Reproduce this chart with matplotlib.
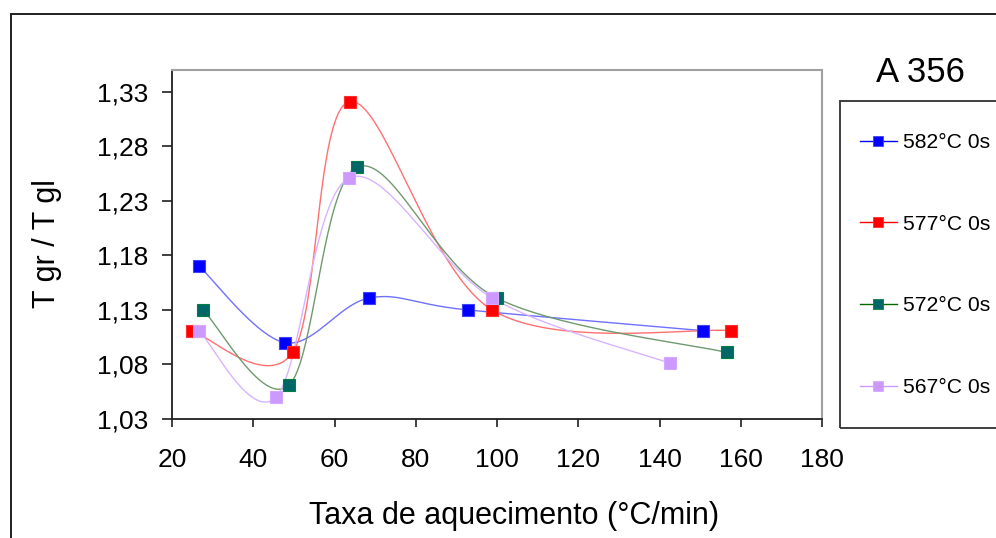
import numpy as np
import matplotlib
matplotlib.use("Agg")
import matplotlib.pyplot as plt
from matplotlib.lines import Line2D
from matplotlib.patches import Rectangle

plt.rcParams['font.family'] = ['Liberation Sans', 'DejaVu Sans']

# ---- data ----
series_labels = ["582°C 0s", "577°C 0s", "572°C 0s", "567°C 0s"]
x_582 = [26.7, 47.8, 68.6, 92.8, 150.7]
y_582 = [1.170, 1.100, 1.141, 1.130, 1.111]
x_577 = [24.8, 49.7, 63.7, 98.8, 157.6]
y_577 = [1.111, 1.091, 1.321, 1.130, 1.111]
x_572 = [27.6, 48.8, 65.6, 99.9, 156.6]
y_572 = [1.130, 1.061, 1.261, 1.141, 1.091]
x_567 = [26.6, 45.6, 63.6, 98.8, 142.7]
y_567 = [1.111, 1.050, 1.251, 1.141, 1.081]

x_ticks = [20, 40, 60, 80, 100, 120, 140, 160, 180]
y_ticks = [1.03, 1.08, 1.13, 1.18, 1.23, 1.28, 1.33]
y_tick_labels = ["1,03", "1,08", "1,13", "1,18", "1,23", "1,28", "1,33"]

xlabel = "Taxa de aquecimento (°C/min)"
ylabel = "T gr / T gl"
series_title = "A 356"


def smooth(xs, ys, n=40):
    P = np.column_stack([xs, ys]).astype(float)
    out = []
    for i in range(len(P) - 1):
        p0 = P[i - 1] if i > 0 else P[i]
        p1 = P[i]
        p2 = P[i + 1]
        p3 = P[i + 2] if i + 2 < len(P) else P[i + 1]
        c1 = p1 + (p2 - p0) / 6.0
        c2 = p2 - (p3 - p1) / 6.0
        t = np.linspace(0, 1, n)[:, None]
        seg = ((1 - t) ** 3) * p1 + 3 * ((1 - t) ** 2) * t * c1 + 3 * (1 - t) * t ** 2 * c2 + t ** 3 * p2
        out.append(seg if i == 0 else seg[1:])
    S = np.vstack(out)
    return S[:, 0], S[:, 1]


W, H = 996, 538
fig = plt.figure(figsize=(W / 100, H / 100), dpi=100)
fig.patch.set_facecolor("white")

ax_l, ax_r, ax_t, ax_b = 172, 822, 70, 419
ax = fig.add_axes([ax_l / W, 1 - ax_b / H, (ax_r - ax_l) / W, (ax_b - ax_t) / H])

styles = [
    dict(line="#7070ff", mfc="#0000ff", mec="#4040ff", leg_line="#0000ff"),
    dict(line="#ff7070", mfc="#ff0000", mec="#ff3030", leg_line="#ff0000"),
    dict(line="#6f9a6f", mfc="#006666", mec="#008040", leg_line="#006600"),
    dict(line="#d8b4ff", mfc="#cc99ff", mec="#d4a8ff", leg_line="#cc99ff"),
]
data = [(x_582, y_582), (x_577, y_577), (x_572, y_572), (x_567, y_567)]

for (xs, ys), st in zip(data, styles):
    sx, sy = smooth(xs, ys)
    ax.plot(sx, sy, color=st["line"], lw=1.0, zorder=2)
for (xs, ys), st in zip(data, styles):
    ax.plot(xs, ys, ls="none", marker="s", ms=8, mfc=st["mfc"], mec=st["mec"], mew=0.8, zorder=3)

ax.set_xlim(20, 180)
ax.set_ylim(1.03, 1.35)
ax.set_xticks(x_ticks)
ax.set_xticklabels([str(v) for v in x_ticks])
ax.set_yticks(y_ticks)
ax.set_yticklabels(y_tick_labels)

for s in ["top", "right"]:
    ax.spines[s].set_color("#a0a0a0")
    ax.spines[s].set_linewidth(1.5)
for s in ["left", "bottom"]:
    ax.spines[s].set_color("#202020")
    ax.spines[s].set_linewidth(1.3)

ax.tick_params(axis="y", direction="out", length=7, width=1.2, pad=10, labelsize=19, colors="#202020")
ax.tick_params(axis="x", direction="out", length=6, width=1.2, pad=15, labelsize=19, colors="#202020")
for lab in ax.get_xticklabels() + ax.get_yticklabels():
    lab.set_color("black")

ax.set_xlabel(xlabel, fontsize=22)
ax.xaxis.set_label_coords((514 - ax_l) / (ax_r - ax_l), (ax_b - 516) / (ax_b - ax_t))
ax.xaxis.label.set_va("center")
ax.set_ylabel(ylabel, fontsize=22)
ax.yaxis.set_label_coords((47 - ax_l) / (ax_r - ax_l), (ax_b - 244) / (ax_b - ax_t))
ax.yaxis.label.set_va("center")

# outer chart border
fig.add_artist(Rectangle((10.5 / W, 1 - 600 / H), (1100 - 10.5) / W, (600 - 13.5) / H,
                         transform=fig.transFigure, fill=False, ec="#202020", lw=1.4, clip_on=False))

# legend box
fig.add_artist(Rectangle((840 / W, 1 - 428 / H), (1100 - 840) / W, (428 - 101) / H,
                         transform=fig.transFigure, fill=False, ec="#303030", lw=1.3, clip_on=False))

handles = [Line2D([0], [0], color=st["leg_line"], lw=1.0, marker="s", ms=6.5,
                  mfc=st["mfc"], mec=st["mec"], mew=0.6) for st in styles]
fig.legend(handles, series_labels, loc="center left",
           bbox_to_anchor=(860 / W, 1 - 265 / H), frameon=False, fontsize=15.2,
           handlelength=1.75, handletextpad=0.3, labelspacing=2.97, borderpad=0, borderaxespad=0)

fig.text(920 / W, 1 - 73 / H, series_title, fontsize=25, ha="center", va="center")

fig.savefig("out.png", dpi=100, facecolor="white")
